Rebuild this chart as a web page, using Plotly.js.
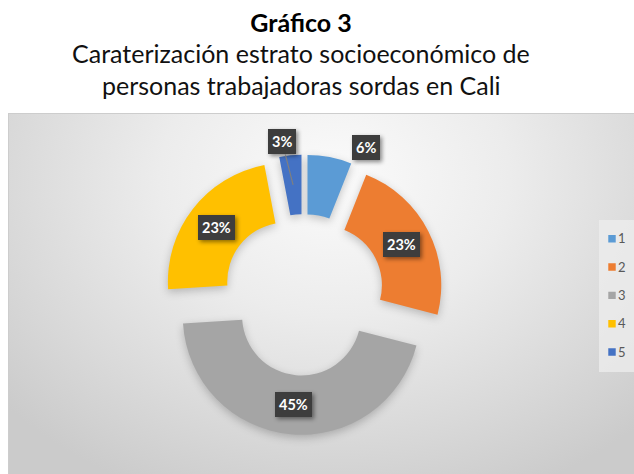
<!DOCTYPE html>
<html>
<head>
<meta charset="utf-8">
<script src="https://cdn.plot.ly/plotly-3.0.1.min.js"></script>
<style>
  html, body { margin: 0; padding: 0; background: #ffffff; }
  #wrap { position: relative; width: 634px; height: 474px; overflow: hidden; }
  #bg {
    position: absolute; left: 8px; top: 113px; width: 626px; height: 361px;
    border-top: 1px solid #cdcdcd; border-left: 1px solid #cdcdcd;
    background: radial-gradient(ellipse 70% 95% at 52% 18%, #fbfbfb 0%, #ececec 40%, #d9d9d9 75%, #cbcbcb 100%);
  }
  #chart { position: absolute; left: 0; top: 0; width: 634px; height: 474px; }
  .pielayer .trace { filter: drop-shadow(0px 3px 4px rgba(0,0,0,0.22)); }
  .annotation-text-g rect.bg { filter: drop-shadow(2px 2px 2px rgba(0,0,0,0.45)); }
  .legend .legendpoints path.legendpie { transform: translate(13px, 0px) scale(0.62); }
  .legend text.legendtext { transform: translate(-21px, -3px); }
</style>
</head>
<body>
<div id="wrap">
  <div id="bg"></div>
  <div id="chart"></div>
</div>
<script>
// ---- data ----
const categories = ['1', '2', '3', '4', '5'];
const percentValues = [6, 23, 45, 23, 3];
const titleMain = 'Gráfico 3';
const subtitleLines = ['Caraterización estrato socioeconómico de', 'personas trabajadoras sordas en Cali'];

// ---- styles ----
const sliceColors = ['#5B9BD5', '#ED7D31', '#A5A5A5', '#FFC000', '#4472C4'];
const W = 634, H = 474;
const pullFrac = 0.18;
const holeFrac = 0.5;
// pixel nudges for labels placed outside small slices [dx, dy]
const labelNudge = [[42, -39], [0, 0], [0, 0], [0, 0], [-11, -43]];
const leaderLine = [false, false, false, false, true];
const fontFam = 'Lato, "Open Sans", sans-serif';
const titleCenterX = 301 / W;

const legendLabels = categories.map(c => '<span style="font-size:13px">' + c + '</span>');

const trace = {
  type: 'pie',
  labels: legendLabels,
  values: percentValues,
  sort: false,
  direction: 'clockwise',
  rotation: 0,
  hole: holeFrac,
  pull: categories.map(() => pullFrac),
  marker: { colors: sliceColors, line: { width: 0 } },
  textinfo: 'none',
  hoverinfo: 'label+percent',
  domain: { x: [0.2577, 0.6997], y: [0.0825, 0.6736] }
};

const layout = {
  width: W, height: H,
  margin: { l: 0, r: 0, t: 0, b: 0, autoexpand: false },
  paper_bgcolor: 'rgba(0,0,0,0)',
  plot_bgcolor: 'rgba(0,0,0,0)',
  showlegend: true,
  legend: {
    x: 599 / W, xanchor: 'left',
    y: 1 - 219.5 / H, yanchor: 'top',
    bgcolor: 'rgba(238,238,238,0.75)',
    borderwidth: 0,
    font: { family: fontFam, size: 19.5, color: '#595959' },
    traceorder: 'normal'
  },
  title: {
    text: '<b>' + titleMain + '</b>',
    x: titleCenterX, xanchor: 'center',
    y: 1 - 23.5 / H, yanchor: 'middle',
    font: { family: fontFam, size: 25, color: '#000000' }
  },
  annotations: subtitleLines.map((t, i) => ({
    text: t, xref: 'paper', yref: 'paper', x: titleCenterX, xanchor: 'center',
    y: 1 - (53 + i * 32) / H, yanchor: 'middle', showarrow: false,
    font: { family: fontFam, size: 25, color: '#111111' }
  }))
};

const gd = document.getElementById('chart');

Plotly.newPlot(gd, [trace], layout, { displayModeBar: false, staticPlot: true }).then(() => {
  const cd0 = gd.calcdata[0][0];
  const cx = cd0.cx, cy = cd0.cy, r = cd0.r;
  const total = percentValues.reduce((a, b) => a + b, 0);
  let cum = 0;
  const labelAnns = percentValues.map((v, i) => {
    const mid = (cum + v / 2) / total * 2 * Math.PI;
    cum += v;
    const rad = (r + r * holeFrac) / 2 + pullFrac * r;
    const px = cx + rad * Math.sin(mid);
    const py = cy - rad * Math.cos(mid);
    const pct = Math.round(v / total * 100) + '%';
    const base = {
      text: '<b>' + pct + '</b>',
      xref: 'paper', yref: 'paper',
      x: px / W, y: 1 - py / H,
      bgcolor: '#3d3d3d', borderpad: 4, borderwidth: 0,
      font: { family: fontFam, size: 14.5, color: '#ffffff' }
    };
    const [dx, dy] = labelNudge[i];
    if (leaderLine[i]) {
      return Object.assign(base, {
        showarrow: true, ax: dx, ay: dy, arrowhead: 0, arrowwidth: 1.2,
        arrowcolor: '#7f7f7f', standoff: 0
      });
    }
    return Object.assign(base, {
      showarrow: false, xanchor: 'center', yanchor: 'middle', xshift: dx, yshift: -dy
    });
  });
  return Plotly.relayout(gd, { annotations: layout.annotations.concat(labelAnns) });
});
</script>
</body>
</html>
